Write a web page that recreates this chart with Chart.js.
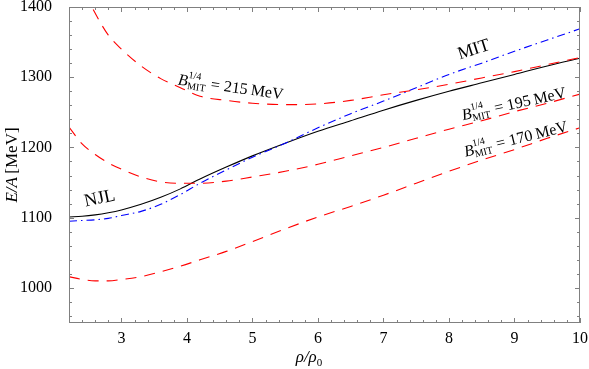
<!DOCTYPE html>
<html>
<head>
<meta charset="utf-8">
<script src="https://cdn.jsdelivr.net/npm/chart.js@4.4.1/dist/chart.umd.min.js"></script>
<style>
  html, body { margin: 0; padding: 0; background: #fff; }
  #wrap { width: 589px; height: 369px; }
</style>
</head>
<body>
<div id="wrap"><canvas id="chart"></canvas></div>
<script>
// density rho/rho0 sample points
const rho = [2.2, 2.4, 2.6, 2.8, 3.0, 3.3, 3.6, 3.9, 4.2, 4.6, 5.0, 5.5, 6.0, 6.5, 7.0, 7.5, 8.0, 8.5, 9.0, 9.5, 10.0];

// E/A in MeV
const njl   = [1101, 1102, 1104, 1107, 1111, 1119, 1129, 1141, 1155, 1172, 1188, 1206, 1223, 1238, 1253, 1267, 1280, 1292, 1304, 1316, 1327];
const mit   = [1095, 1096, 1097, 1099, 1103, 1109, 1119, 1133, 1149, 1168, 1186, 1206, 1228, 1248, 1266, 1285, 1304, 1320, 1337, 1353, 1369];
const mit215 = [1470, 1428, 1391, 1360, 1340, 1316, 1298, 1285, 1273, 1267, 1263, 1261, 1262, 1267, 1275, 1282, 1290, 1299, 1308, 1318, 1328];
const mit195 = [1229, 1205, 1190, 1178, 1169, 1158, 1151, 1149, 1149, 1152, 1158, 1166, 1176, 1188, 1200, 1213, 1226, 1238, 1251, 1263, 1276];
const mit170 = [1016, 1012, 1010, 1010, 1012, 1016, 1023, 1031, 1040, 1052, 1066, 1084, 1101, 1116, 1132, 1149, 1166, 1182, 1197, 1213, 1228];

const xTicks = [3, 4, 5, 6, 7, 8, 9, 10];
const yTicks = [1000, 1100, 1200, 1300, 1400];

const serif = '"Liberation Serif", "DejaVu Serif", serif';

function pts(ys) {
  return rho.map((r, i) => ({ x: r, y: ys[i] }));
}

function series(label, ys, color, dash, width) {
  return {
    label: label,
    data: pts(ys),
    borderColor: color,
    borderWidth: width,
    borderDash: dash,
    pointRadius: 0,
    fill: false,
    cubicInterpolationMode: 'monotone'
  };
}

// inward ticks on all four sides plus the grey frame
const framePlugin = {
  id: 'frame',
  afterDraw(chart) {
    const ctx = chart.ctx, a = chart.chartArea;
    const xs = chart.scales.x, ys = chart.scales.y;
    ctx.save();
    ctx.strokeStyle = '#808080';
    ctx.lineWidth = 1;
    ctx.strokeRect(Math.round(a.left) + 0.5, Math.round(a.top) + 0.5,
      Math.round(a.right - a.left) - 1, Math.round(a.bottom - a.top) - 1);
    ctx.beginPath();
    for (let k = 11; k <= 50; k++) {
      const v = k / 5;
      const len = k % 5 === 0 ? 5 : 3;
      const px = Math.round(xs.getPixelForValue(v)) + 0.5;
      ctx.moveTo(px, a.bottom); ctx.lineTo(px, a.bottom - len);
      ctx.moveTo(px, a.top); ctx.lineTo(px, a.top + len);
    }
    for (let k = 48; k <= 70; k++) {
      const v = k * 20;
      const len = v % 100 === 0 ? 5 : 3;
      const py = Math.round(ys.getPixelForValue(v)) + 0.5;
      ctx.moveTo(a.left, py); ctx.lineTo(a.left + len, py);
      ctx.moveTo(a.right, py); ctx.lineTo(a.right - len, py);
    }
    ctx.stroke();
    ctx.restore();
  }
};

// B^{1/4}_MIT = xxx MeV
function drawBLabel(ctx, x, y, angle, value) {
  ctx.save();
  ctx.translate(x, y);
  ctx.rotate(angle * Math.PI / 180);
  ctx.fillStyle = '#000';
  ctx.textBaseline = 'alphabetic';
  ctx.font = 'italic 16px ' + serif;
  const wB = ctx.measureText('B').width;
  ctx.font = '10px ' + serif;
  const wSup = ctx.measureText('1/4').width;
  const wSub = ctx.measureText('MIT').width;
  ctx.font = '16px ' + serif;
  const rest = ' = ' + value + '\u2009MeV';
  const wRest = ctx.measureText(rest).width;
  const total = wB + Math.max(wSup, wSub) + 1 + wRest;
  let cx = -total / 2;
  const base = 5;
  ctx.font = 'italic 16px ' + serif;
  ctx.fillText('B', cx, base);
  cx += wB;
  ctx.font = '10px ' + serif;
  ctx.fillText('1/4', cx, base - 8);
  ctx.fillText('MIT', cx, base + 3);
  cx += Math.max(wSup, wSub) + 1;
  ctx.font = '16px ' + serif;
  ctx.fillText(rest, cx, base);
  ctx.restore();
}

function drawText(ctx, txt, x, y, angle, font) {
  ctx.save();
  ctx.translate(x, y);
  ctx.rotate(angle * Math.PI / 180);
  ctx.font = font;
  ctx.fillStyle = '#000';
  ctx.textAlign = 'center';
  ctx.textBaseline = 'middle';
  ctx.fillText(txt, 0, 0);
  ctx.restore();
}

const labelPlugin = {
  id: 'labels',
  afterDraw(chart) {
    const ctx = chart.ctx;
    const xs = chart.scales.x, ys = chart.scales.y;
    const X = v => xs.getPixelForValue(v), Y = v => ys.getPixelForValue(v);

    drawText(ctx, 'NJL', X(2.67), Y(1127), -12, '18px ' + serif);
    drawText(ctx, 'MIT', X(8.38), Y(1339), -18, '18px ' + serif);
    drawBLabel(ctx, X(4.67), Y(1286), 8, 215);
    drawBLabel(ctx, X(8.99), Y(1262), -12.5, 195);
    drawBLabel(ctx, X(9.02), Y(1212), -14, 170);

    // axis titles
    ctx.save();
    ctx.fillStyle = '#000';
    ctx.textBaseline = 'middle';
    // x: rho/rho_0
    ctx.font = 'italic 17px ' + serif;
    const w1 = ctx.measureText('\u03c1/\u03c1').width;
    ctx.font = '11px ' + serif;
    const w0 = ctx.measureText('0').width;
    let sx = 309 - (w1 + w0) / 2;
    ctx.font = 'italic 17px ' + serif;
    ctx.fillText('\u03c1/\u03c1', sx, 358);
    ctx.font = '11px ' + serif;
    ctx.fillText('0', sx + w1, 363);
    // y: E/A [MeV]
    ctx.translate(13, 165);
    ctx.rotate(-Math.PI / 2);
    ctx.font = 'italic 17px ' + serif;
    const wa = ctx.measureText('E/A').width;
    ctx.font = '17px ' + serif;
    const wb = ctx.measureText('\u2009[MeV]').width;
    let ty = -(wa + wb) / 2;
    ctx.font = 'italic 17px ' + serif;
    ctx.fillText('E/A', ty, 0);
    ctx.font = '17px ' + serif;
    ctx.fillText('\u2009[MeV]', ty + wa, 0);
    ctx.restore();
  }
};

function noPad(s) {
  s.paddingTop = 0; s.paddingBottom = 0;
  s.paddingLeft = 0; s.paddingRight = 0;
}

const ctx = document.getElementById('chart').getContext('2d');
const chart = new Chart(ctx, {
  type: 'line',
  data: {
    datasets: [
      series('B215', mit215, 'rgb(255,0,0)', [11, 8], 1.1),
      series('B195', mit195, 'rgb(255,0,0)', [11, 8], 1.1),
      series('B170', mit170, 'rgb(255,0,0)', [11, 8], 1.1),
      series('MIT', mit, 'rgb(0,0,255)', [8, 4, 1.5, 4], 1.1),
      series('NJL', njl, '#000000', [], 1.1)
    ]
  },
  options: {
    responsive: true,
    maintainAspectRatio: false,
    animation: false,
    layout: { autoPadding: false, padding: { left: 0, top: 7, right: 9, bottom: 0 } },
    plugins: {
      legend: { display: false },
      tooltip: { enabled: false }
    },
    scales: {
      x: {
        type: 'linear',
        min: 2.2,
        max: 10,
        grid: { display: false, drawTicks: false },
        border: { display: false },
        afterBuildTicks: s => { s.ticks = xTicks.map(v => ({ value: v })); },
        afterFit: s => { s.height = 46; noPad(s); },
        ticks: {
          color: '#000',
          padding: 6,
          maxRotation: 0,
          font: { family: serif, size: 16 },
          callback: v => String(v)
        }
      },
      y: {
        min: 950,
        max: 1400,
        grid: { display: false, drawTicks: false },
        border: { display: false },
        afterBuildTicks: s => { s.ticks = yTicks.map(v => ({ value: v })); },
        afterFit: s => { s.width = 69; noPad(s); },
        ticks: {
          color: '#000',
          padding: 17,
          font: { family: serif, size: 16 },
          callback: v => String(v)
        }
      }
    }
  },
  plugins: [framePlugin, labelPlugin]
});
</script>
</body>
</html>
